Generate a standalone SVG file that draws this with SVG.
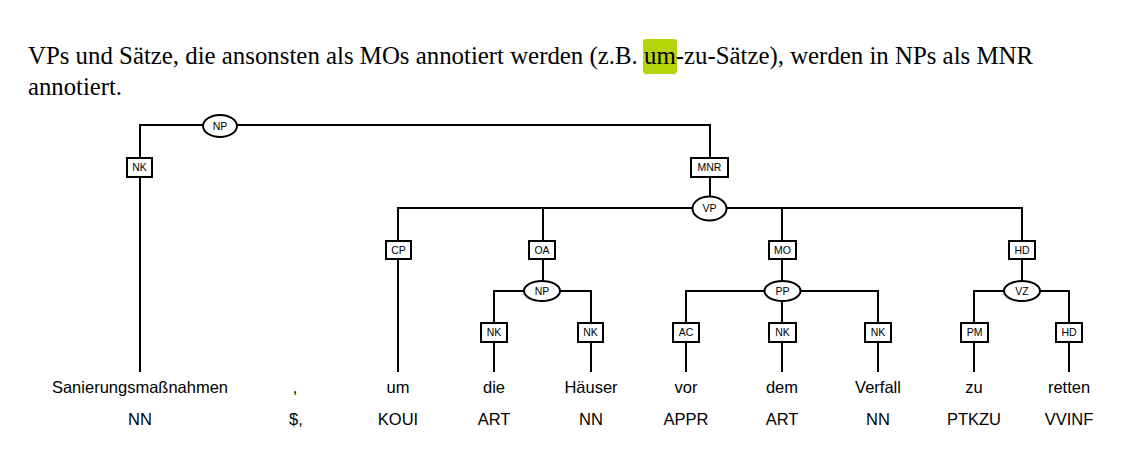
<svg xmlns="http://www.w3.org/2000/svg" width="1143" height="459" viewBox="0 0 1143 459">
<style>
.t{font-family:"Liberation Serif",serif;font-size:25px;fill:#000}
.e{fill:#fff;stroke:#000;stroke-width:2}
.b{fill:#fff;stroke:#000;stroke-width:2}
.lb{font-family:"Liberation Sans",Arial,sans-serif;font-size:10.5px;fill:#000;text-anchor:middle}
.w{font-family:"Liberation Sans",Arial,sans-serif;font-size:16.5px;fill:#000;text-anchor:middle}
.c{fill:none;stroke:#000;stroke-width:2}
</style>
<rect width="1143" height="459" fill="#fff"/>
<rect x="643" y="39" width="34" height="35" rx="3" fill="#b5d40a"/>
<text class="t" x="28" y="64" textLength="1005" lengthAdjust="spacingAndGlyphs">VPs und Sätze, die ansonsten als MOs annotiert werden (z.B. um-zu-Sätze), werden in NPs als MNR</text>
<text class="t" x="28" y="95" textLength="94" lengthAdjust="spacingAndGlyphs">annotiert.</text>
<g id="connectors">
<path class="c" d="M140,372 V125 H710 V208"/>
<path class="c" d="M398,372 V208 H1022 V291"/>
<path class="c" d="M543,208 V291"/>
<path class="c" d="M782,208 V291"/>
<path class="c" d="M494,372 V291 H591 V372"/>
<path class="c" d="M686,372 V291 H878 V372"/>
<path class="c" d="M782,291 V372"/>
<path class="c" d="M974,372 V291 H1069 V372"/>
</g>
<g id="np1"><ellipse class="e" cx="220" cy="126" rx="17" ry="11"/><text class="lb" x="220" y="129.5">NP</text></g>
<g id="nk1"><rect class="b" x="127" y="158" width="25" height="19"/><text class="lb" x="139.5" y="171">NK</text></g>
<g id="mnr"><rect class="b" x="691" y="158" width="37" height="19"/><text class="lb" x="709.5" y="171">MNR</text></g>
<g id="vp"><ellipse class="e" cx="709.5" cy="208.5" rx="17" ry="12"/><text class="lb" x="709.5" y="212">VP</text></g>
<g id="cp"><rect class="b" x="386" y="241" width="25" height="18"/><text class="lb" x="398.5" y="253.5">CP</text></g>
<g id="oa"><rect class="b" x="529" y="241" width="26" height="18"/><text class="lb" x="542" y="253.5">OA</text></g>
<g id="mo"><rect class="b" x="769" y="241" width="27" height="18"/><text class="lb" x="782.5" y="253.5">MO</text></g>
<g id="hd1"><rect class="b" x="1009" y="241" width="26" height="18"/><text class="lb" x="1022" y="253.5">HD</text></g>
<g id="np2"><ellipse class="e" cx="542" cy="291" rx="18" ry="10"/><text class="lb" x="542" y="294.5">NP</text></g>
<g id="pp"><ellipse class="e" cx="782.5" cy="291" rx="18" ry="10"/><text class="lb" x="782.5" y="294.5">PP</text></g>
<g id="vz"><ellipse class="e" cx="1022" cy="291" rx="18" ry="10"/><text class="lb" x="1022" y="294.5">VZ</text></g>
<g id="nk2"><rect class="b" x="481" y="323" width="26" height="19"/><text class="lb" x="494" y="336">NK</text></g>
<g id="nk3"><rect class="b" x="578" y="323" width="25" height="19"/><text class="lb" x="590.5" y="336">NK</text></g>
<g id="ac"><rect class="b" x="673" y="323" width="26" height="19"/><text class="lb" x="686" y="336">AC</text></g>
<g id="nk4"><rect class="b" x="769" y="323" width="27" height="19"/><text class="lb" x="782.5" y="336">NK</text></g>
<g id="nk5"><rect class="b" x="865" y="323" width="26" height="19"/><text class="lb" x="878" y="336">NK</text></g>
<g id="pm"><rect class="b" x="961" y="323" width="27" height="19"/><text class="lb" x="974.5" y="336">PM</text></g>
<g id="hd2"><rect class="b" x="1056" y="323" width="26" height="19"/><text class="lb" x="1069" y="336">HD</text></g>
<g id="words">
<text class="w" x="140" y="393">Sanierungsmaßnahmen</text>
<text class="w" x="295" y="393">,</text>
<text class="w" x="398" y="393">um</text>
<text class="w" x="494" y="393">die</text>
<text class="w" x="591" y="393">Häuser</text>
<text class="w" x="686" y="393">vor</text>
<text class="w" x="782" y="393">dem</text>
<text class="w" x="878" y="393">Verfall</text>
<text class="w" x="974" y="393">zu</text>
<text class="w" x="1069" y="393">retten</text>
</g>
<g id="tags">
<text class="w" x="140" y="425">NN</text>
<text class="w" x="296" y="425">$,</text>
<text class="w" x="398" y="425">KOUI</text>
<text class="w" x="494" y="425">ART</text>
<text class="w" x="591" y="425">NN</text>
<text class="w" x="686" y="425">APPR</text>
<text class="w" x="782" y="425">ART</text>
<text class="w" x="878" y="425">NN</text>
<text class="w" x="974" y="425">PTKZU</text>
<text class="w" x="1069" y="425">VVINF</text>
</g>
</svg>
